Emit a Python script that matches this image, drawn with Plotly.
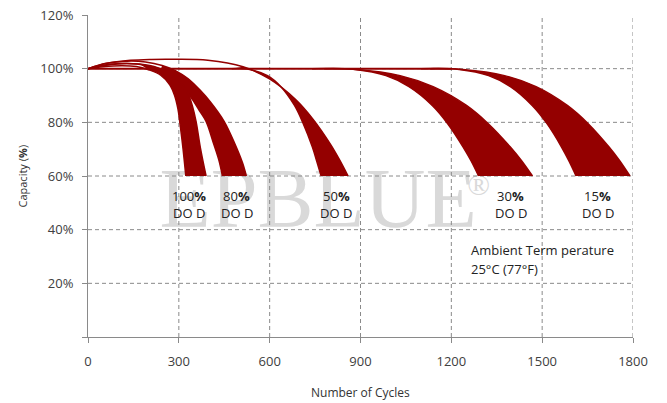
import plotly.graph_objects as go

# ---------------- data ----------------
x_ticks = [0, 300, 600, 900, 1200, 1500, 1800]
y_ticks = [0, 20, 40, 60, 80, 100, 120]
y_tick_text = ["", "20%", "40%", "60%", "80%", "100%", "120%"]

dod_names = ["100", "80", "50", "30", "15"]

x100_out = [0, 50, 110, 170, 230, 275, 305, 329, 345, 357, 372, 390]
y100_out = [100, 101.3, 101.9, 101.7, 100.4, 98, 95, 91.2, 86, 80.3, 70, 60]
x100_in = [0, 50, 110, 160, 200, 240, 270, 286, 297, 303, 314, 323]
y100_in = [100, 100.7, 101.1, 100.8, 99.6, 97.6, 94, 90, 85, 80.3, 70, 60]

x80_out = [0, 60, 130, 190, 245, 290, 330, 370, 405, 450, 485, 510, 523]
y80_out = [100, 102, 102.8, 102.5, 101.2, 99.2, 96.3, 92, 87.5, 80.3, 72, 65, 60]
x80_in = [0, 60, 130, 190, 240, 280, 315, 345, 370, 390, 415, 432, 444]
y80_in = [100, 101.3, 101.9, 101.3, 99.6, 96.8, 93, 88.5, 84, 80.3, 72, 66, 60]

x50_out = [0, 60, 140, 210, 280, 396, 512, 598, 685, 743, 801, 830, 859]
y50_out = [100, 101.9, 103.1, 103.45, 103.5, 103.15, 100.7, 96.3, 88.6, 81.2, 71.8, 66.2, 60]
x50_in = [475, 534, 593, 637, 682, 711, 741, 755, 770]
y50_in = [100, 99.7, 97.4, 93.3, 86.3, 79.5, 70.8, 65.7, 60]

x30_out = [740, 886, 1031, 1140, 1250, 1322, 1395, 1432, 1468]
y30_out = [100, 99.7, 97.4, 93.3, 86.3, 79.5, 70.8, 65.7, 60]
x30_in = [780, 882, 984, 1060, 1137, 1188, 1239, 1265, 1290]
y30_in = [100, 99.7, 97.4, 93.3, 86.3, 79.5, 70.8, 65.7, 60]

x15_out = [1100, 1238, 1376, 1480, 1583, 1652, 1721, 1756, 1790]
y15_out = [100, 99.7, 97.4, 93.3, 86.3, 79.5, 70.8, 65.7, 60]
x15_in = [1130, 1226, 1323, 1395, 1467, 1516, 1564, 1588, 1612]
y15_in = [100, 99.7, 97.4, 93.3, 86.3, 79.5, 70.8, 65.7, 60]

# cycle count where each thick band begins
band_start = [170, 240, 475, 0, 0]

# flat 100 % line
flat_x = [0, 1200]
flat_y = [100, 100]

# label positions (cycles, capacity)
label_x = [332, 492, 820, 1396, 1684]
label_y = 52.7
dod_y = 46.2
note_x = 1258
note_y = [32.4, 25.3]

# ---------------- figure ----------------
RED = "#940000"
curves = [
    (x100_out, y100_out, x100_in, y100_in),
    (x80_out, y80_out, x80_in, y80_in),
    (x50_out, y50_out, x50_in, y50_in),
    (x30_out, y30_out, x30_in, y30_in),
    (x15_out, y15_out, x15_in, y15_in),
]

fig = go.Figure()

# thick bands
for (xo, yo, xi, yi), s in zip(curves, band_start):
    io = [k for k, v in enumerate(xo) if v >= s]
    ii = [k for k, v in enumerate(xi) if v >= s]
    fig.add_trace(go.Scatter(x=[xi[k] for k in ii], y=[yi[k] for k in ii], mode="lines",
                             line=dict(width=0, shape="spline", smoothing=1, color=RED),
                             hoverinfo="skip", showlegend=False))
    fig.add_trace(go.Scatter(x=[xo[k] for k in io], y=[yo[k] for k in io], mode="lines",
                             line=dict(width=0, shape="spline", smoothing=1, color=RED),
                             fill="tonexty", fillcolor=RED,
                             hoverinfo="skip", showlegend=False))

# thin outline curves
for xo, yo, xi, yi in curves:
    for xx, yy in ((xo, yo), (xi, yi)):
        fig.add_trace(go.Scatter(x=xx, y=yy, mode="lines",
                                 line=dict(width=1.5, shape="spline", smoothing=1, color=RED),
                                 hoverinfo="skip", showlegend=False))

fig.add_trace(go.Scatter(x=flat_x, y=flat_y, mode="lines",
                         line=dict(width=2, color=RED),
                         hoverinfo="skip", showlegend=False))

shapes = []
# watermark
shapes.append(dict(type="rect", xref="x", yref="y", x0=265, x1=1255, y0=44, y1=66,
                   line=dict(width=0), fillcolor="rgba(0,0,0,0)", layer="below",
                   label=dict(text="EPBLUE", textposition="middle center",
                              font=dict(family="Liberation Serif", size=84, color="#d9d9d9"))))
shapes.append(dict(type="rect", xref="x", yref="y", x0=1250, x1=1330, y0=54, y1=62,
                   line=dict(width=0), fillcolor="rgba(0,0,0,0)", layer="below",
                   label=dict(text="®", textposition="middle center",
                              font=dict(family="Liberation Serif", size=30, color="#d9d9d9"))))
# grid lines
for yv in y_ticks[1:-1]:
    shapes.append(dict(type="line", xref="x", yref="y", x0=0, x1=1800, y0=yv, y1=yv,
                       line=dict(color="#8a8a8a", width=1, dash="4px,3px"), layer="below"))
for xv in x_ticks[1:]:
    shapes.append(dict(type="line", xref="x", yref="y", x0=xv, x1=xv, y0=0, y1=120,
                       line=dict(color="#8a8a8a", width=1, dash="4px,3px"), layer="below"))

FONT = "Open Sans"
ann = []
for name, lx in zip(dod_names, label_x):
    ann.append(dict(x=lx, y=label_y, xref="x", yref="y", text=name + "<b>%</b>",
                    showarrow=False, font=dict(family=FONT, size=13, color="#222222")))
    ann.append(dict(x=lx, y=dod_y, xref="x", yref="y", text="DO D",
                    showarrow=False, font=dict(family=FONT, size=13, color="#222222")))
ann.append(dict(x=note_x, y=note_y[0], xref="x", yref="y", text="Ambient Term perature",
                xanchor="left", showarrow=False, font=dict(family=FONT, size=13, color="#222222")))
ann.append(dict(x=note_x, y=note_y[1], xref="x", yref="y", text="25°C (77°F)",
                xanchor="left", showarrow=False, font=dict(family=FONT, size=13, color="#222222")))
ann.append(dict(x=0.5, y=-0.171, xref="paper", yref="paper", text="Number of Cycles",
                xanchor="center", yanchor="middle",
                showarrow=False, font=dict(family=FONT, size=12, color="#333333")))
ann.append(dict(x=-0.122, y=0.5, xref="paper", yref="paper", text="Capacity (<b>%</b>)",
                xanchor="center", yanchor="middle",
                textangle=-90, showarrow=False, font=dict(family=FONT, size=11, color="#333333")))

fig.update_layout(
    width=667, height=403,
    margin=dict(l=88, r=34, t=15, b=66),
    paper_bgcolor="white", plot_bgcolor="white",
    shapes=shapes, annotations=ann,
    showlegend=False,
)
fig.update_xaxes(range=[0, 1800], tickvals=x_ticks, showgrid=False, zeroline=False,
                 showline=True, linecolor="#8a8a8a", linewidth=1,
                 ticks="outside", ticklen=5, tickcolor="#8a8a8a",
                 ticklabelstandoff=7, ticklabeloverflow="allow", automargin=False,
                 tickfont=dict(family=FONT, size=13, color="#404040"))
fig.update_yaxes(range=[0, 120], tickvals=y_ticks, ticktext=y_tick_text, showgrid=False,
                 zeroline=False, showline=True, linecolor="#8a8a8a", linewidth=1,
                 ticks="outside", ticklen=5, tickcolor="#8a8a8a",
                 ticklabelstandoff=6, ticklabeloverflow="allow", automargin=False,
                 tickfont=dict(family=FONT, size=13, color="#404040"))

# remove the browser's default body margin so the figure sits at the page origin
fig.write_html("out.html",
               config={"displayModeBar": False, "staticPlot": True},
               post_script="document.body.style.margin='0px';document.body.style.overflow='hidden';")
